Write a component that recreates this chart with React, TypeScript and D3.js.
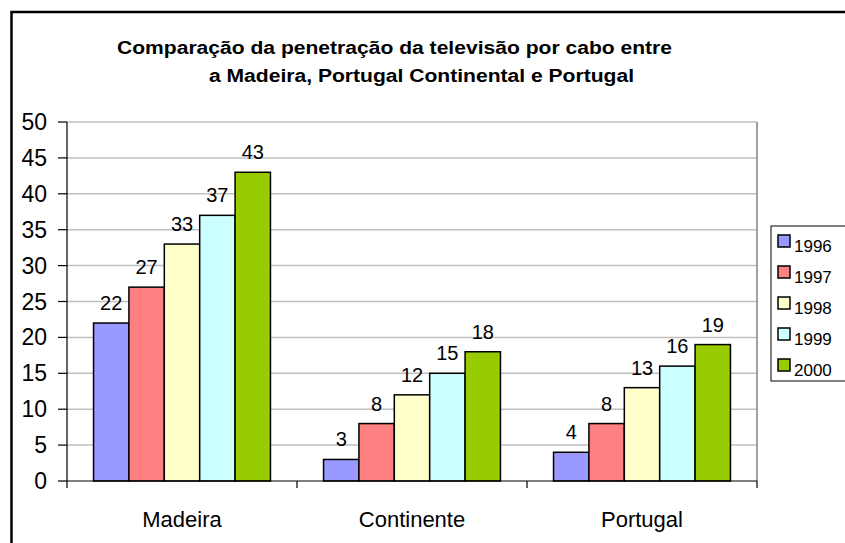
import * as d3 from "d3";
import { useEffect, useRef } from "react";

const categories = ["Madeira", "Continente", "Portugal"];
const years = ["1996", "1997", "1998", "1999", "2000"];
const v1996 = [22, 3, 4];
const v1997 = [27, 8, 8];
const v1998 = [33, 12, 13];
const v1999 = [37, 15, 16];
const v2000 = [43, 18, 19];
const yTicks = [0, 5, 10, 15, 20, 25, 30, 35, 40, 45, 50];
const colors = ["#9999ff", "#ff8080", "#ffffcc", "#ccffff", "#99cc00"];
const titleLines = [
	"Comparação da penetração da televisão por cabo entre",
	"a Madeira, Portugal Continental e Portugal",
];

const W = 845;
const H = 543;

function App() {
	const ref = useRef<SVGSVGElement>(null);

	useEffect(() => {
		const svg = d3.select(ref.current);
		svg.selectAll("*").remove();
		const font = "Arial, 'Liberation Sans', sans-serif";
		const series = [v1996, v1997, v1998, v1999, v2000];

		const plot = { left: 67, right: 757, top: 122, bottom: 481 };

		svg.append("rect").attr("width", W).attr("height", H).attr("fill", "#fff");

		// outer frame
		svg.append("rect")
			.attr("x", 11.5)
			.attr("y", 12)
			.attr("width", W + 20)
			.attr("height", H + 20)
			.attr("fill", "none")
			.attr("stroke", "#000")
			.attr("stroke-width", 2.5);

		// title (second line is indented, as in the original)
		const titleX = [117, 209];
		const titleW = [555, 425];
		const titleY = [54, 82];
		titleLines.forEach((t, i) => {
			svg.append("text")
				.attr("x", titleX[i])
				.attr("y", titleY[i])
				.attr("font-family", font)
				.attr("font-weight", "bold")
				.attr("font-size", 18)
				.attr("textLength", titleW[i])
				.attr("lengthAdjust", "spacingAndGlyphs")
				.text(t);
		});

		const x0 = d3.scaleBand().domain(categories).range([plot.left, plot.right]);
		// gap width 150% -> bars take 5 / 6.5 of each category
		const groupW = x0.bandwidth() * 5 / 6.5;
		const x1 = d3.scaleBand().domain(years).range([0, groupW]);
		const groupOffset = (x0.bandwidth() - groupW) / 2;
		const y = d3.scaleLinear().domain([0, 50]).range([plot.bottom, plot.top]);

		// gridlines
		svg.append("g")
			.selectAll("line")
			.data(yTicks.filter((d) => d > 0))
			.enter()
			.append("line")
			.attr("x1", plot.left)
			.attr("x2", plot.right)
			.attr("y1", (d) => y(d))
			.attr("y2", (d) => y(d))
			.attr("stroke", "#c0c0c0")
			.attr("stroke-width", 1.5);

		// plot border right
		svg.append("line")
			.attr("x1", plot.right)
			.attr("x2", plot.right)
			.attr("y1", plot.top)
			.attr("y2", plot.bottom)
			.attr("stroke", "#808080")
			.attr("stroke-width", 1.5);

		// bars + labels
		series.forEach((vals, si) => {
			const bx = (i: number) => x0(categories[i])! + groupOffset + x1(years[si])!;
			svg.append("g")
				.selectAll("rect")
				.data(vals)
				.enter()
				.append("rect")
				.attr("x", (d, i) => bx(i))
				.attr("y", (d) => y(d))
				.attr("width", x1.bandwidth())
				.attr("height", (d) => y(0) - y(d))
				.attr("fill", colors[si])
				.attr("stroke", "#000")
				.attr("stroke-width", 1.5);

			svg.append("g")
				.selectAll("text")
				.data(vals)
				.enter()
				.append("text")
				.attr("x", (d, i) => bx(i) + x1.bandwidth() / 2)
				.attr("y", (d) => y(d) - 13)
				.attr("text-anchor", "middle")
				.attr("font-family", font)
				.attr("font-size", 20)
				.text((d) => d);
		});

		// y axis
		const yAxis = svg.append("g");
		yAxis.append("line")
			.attr("x1", plot.left)
			.attr("x2", plot.left)
			.attr("y1", plot.top)
			.attr("y2", plot.bottom)
			.attr("stroke", "#000")
			.attr("stroke-width", 1.2);
		yAxis.selectAll("line.tick")
			.data(yTicks)
			.enter()
			.append("line")
			.attr("class", "tick")
			.attr("x1", plot.left - 9)
			.attr("x2", plot.left)
			.attr("y1", (d) => y(d))
			.attr("y2", (d) => y(d))
			.attr("stroke", "#000")
			.attr("stroke-width", 1.2);
		yAxis.selectAll("text")
			.data(yTicks)
			.enter()
			.append("text")
			.attr("x", 47)
			.attr("y", (d) => y(d) + 8)
			.attr("text-anchor", "end")
			.attr("font-family", font)
			.attr("font-size", 23)
			.text((d) => d);

		// x axis
		const xAxis = svg.append("g");
		xAxis.append("line")
			.attr("x1", plot.left)
			.attr("x2", plot.right)
			.attr("y1", plot.bottom)
			.attr("y2", plot.bottom)
			.attr("stroke", "#000")
			.attr("stroke-width", 1.2);
		const edges = categories.map((c) => x0(c)!).concat([plot.right]);
		xAxis.selectAll("line.tick")
			.data(edges)
			.enter()
			.append("line")
			.attr("class", "tick")
			.attr("x1", (d) => d)
			.attr("x2", (d) => d)
			.attr("y1", plot.bottom)
			.attr("y2", plot.bottom + 7)
			.attr("stroke", "#000")
			.attr("stroke-width", 1.2);
		xAxis.selectAll("text")
			.data(categories)
			.enter()
			.append("text")
			.attr("x", (d) => x0(d)! + x0.bandwidth() / 2)
			.attr("y", 527)
			.attr("text-anchor", "middle")
			.attr("font-family", font)
			.attr("font-size", 22)
			.text((d) => d);

		// legend
		const lg = svg.append("g");
		lg.append("rect")
			.attr("x", 771)
			.attr("y", 226)
			.attr("width", 80)
			.attr("height", 155)
			.attr("fill", "#fff")
			.attr("stroke", "#000")
			.attr("stroke-width", 1);
		lg.selectAll("rect.sw")
			.data(years)
			.enter()
			.append("rect")
			.attr("class", "sw")
			.attr("x", 778)
			.attr("y", (d, i) => 235 + i * 31)
			.attr("width", 12)
			.attr("height", 12)
			.attr("fill", (d, i) => colors[i])
			.attr("stroke", "#000")
			.attr("stroke-width", 1.5);
		lg.selectAll("text")
			.data(years)
			.enter()
			.append("text")
			.attr("x", 794)
			.attr("y", (d, i) => 252 + i * 31)
			.attr("font-family", font)
			.attr("font-size", 17)
			.text((d) => d);
	}, []);

	return (
		<div style={{ position: "fixed", left: 0, top: 0 }}>
			<svg ref={ref} width={W} height={H} style={{ display: "block" }}></svg>
		</div>
	);
}

export default App;
